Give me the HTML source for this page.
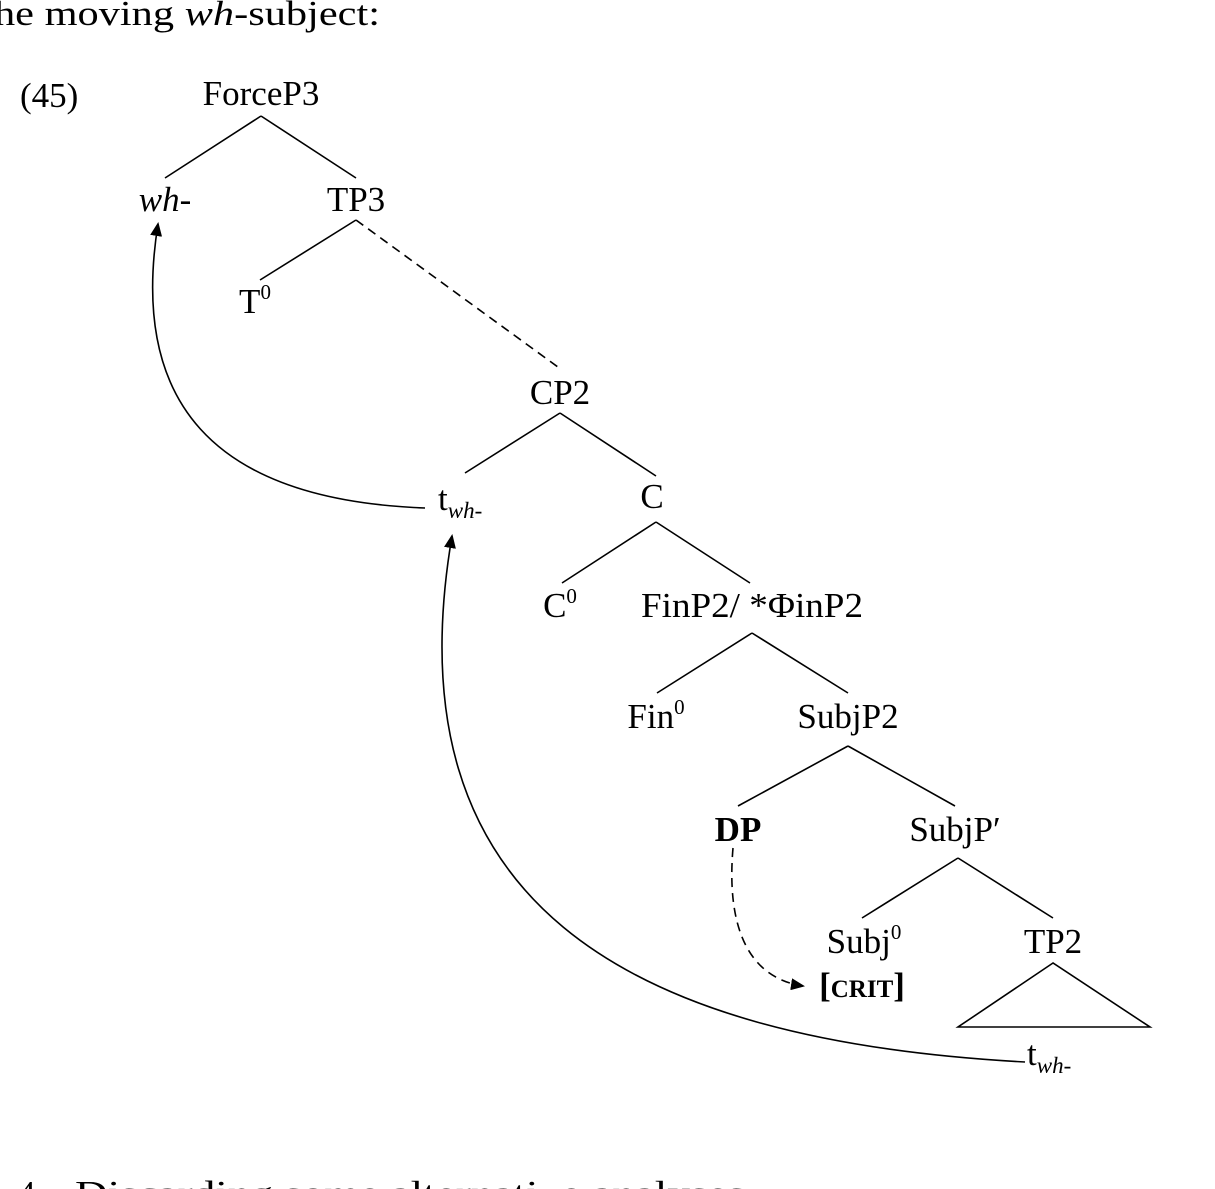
<!DOCTYPE html>
<html><head><meta charset="utf-8"><style>
html,body{margin:0;padding:0;background:#fff;}
svg{display:block;}
text{font-family:"Liberation Serif",serif;font-size:35px;fill:#000;}
</style></head><body>
<svg width="1215" height="1189" viewBox="0 0 1215 1189" xmlns="http://www.w3.org/2000/svg">
<defs><marker id="ah" markerWidth="14" markerHeight="12" refX="12" refY="6" orient="auto" markerUnits="userSpaceOnUse"><path d="M0,0 L14,6 L0,12 z" fill="#000"/></marker></defs>
<text x="-6" y="25" textLength="386" lengthAdjust="spacingAndGlyphs">he moving <tspan font-style="italic">wh</tspan>-subject:</text>
<text x="20" y="107">(45)</text>
<g text-anchor="middle">
<text x="261" y="105">ForceP3</text>
<text x="165" y="211" font-style="italic">wh-</text>
<text x="356" y="211">TP3</text>
<text x="255" y="313">T<tspan font-size="21" dy="-14">0</tspan></text>
<text x="560" y="404">CP2</text>
<text x="652" y="508">C</text>
<text x="560" y="617">C<tspan font-size="21" dy="-14">0</tspan></text>
<text x="752" y="617" textLength="222" lengthAdjust="spacingAndGlyphs">FinP2/ *ΦinP2</text>
<text x="656" y="728">Fin<tspan font-size="21" dy="-14">0</tspan></text>
<text x="848" y="728">SubjP2</text>
<text x="738" y="841" font-weight="bold">DP</text>
<text x="955" y="841">SubjP′</text>
<text x="864" y="953">Subj<tspan font-size="21" dy="-14">0</tspan></text>
<text x="862" y="997" font-weight="bold" font-size="32">[<tspan font-size="25">CRIT</tspan>]</text>
<text x="1053" y="953">TP2</text>
</g>
<text x="438" y="510">t<tspan font-size="23" font-style="italic" dy="8">wh-</tspan></text>
<text x="1027" y="1065">t<tspan font-size="23" font-style="italic" dy="8">wh-</tspan></text>
<g stroke="#000" stroke-width="1.6" fill="none">
<path d="M261,116 L165,178 M261,116 L356,178"/>
<path d="M356,220 L260,280"/>
<path d="M356,220 L562,370" stroke-dasharray="9,6"/>
<path d="M560,413 L465,473 M560,413 L656,476"/>
<path d="M656,522 L562,583 M656,522 L750,583"/>
<path d="M752,633 L657,693 M752,633 L848,693"/>
<path d="M848,746 L738,806 M848,746 L955,806"/>
<path d="M958,858 L862,918 M958,858 L1053,918"/>
<path d="M1053,963 L958,1027 L1150,1027 Z"/>
<path d="M425,508 C210,500 130,400 158,224" marker-end="url(#ah)"/>
<path d="M1025,1062 C620,1040 390,900 452,536" marker-end="url(#ah)"/>
<path d="M733,848 C726,930 750,978 803,986" stroke-dasharray="9,6" marker-end="url(#ah)"/>
</g>
<text x="18" y="1205" font-size="40">4</text>
<text x="75" y="1205" font-size="40" textLength="670" lengthAdjust="spacingAndGlyphs">Discarding some alternative analyses</text>
</svg>
</body></html>
